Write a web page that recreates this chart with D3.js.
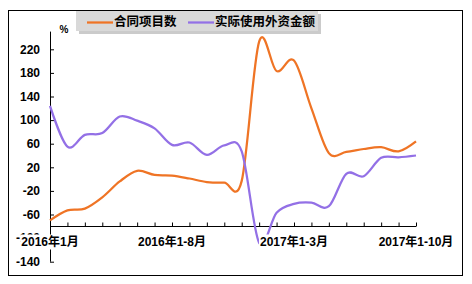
<!DOCTYPE html>
<html>
<head>
<meta charset="utf-8">
<script src="https://cdn.jsdelivr.net/npm/d3@7"></script>
<style>
  html, body { margin: 0; padding: 0; background: #fff; }
  svg { display: block; }
</style>
</head>
<body>
<svg id="chart"></svg>
<script>
// Categories: cumulative months, 2016-01 .. 2017-1-10
const months = [
  "2016年1月", "2016年1-2月", "2016年1-3月", "2016年1-4月", "2016年1-5月",
  "2016年1-6月", "2016年1-7月", "2016年1-8月", "2016年1-9月", "2016年1-10月",
  "2016年1-11月", "2016年1-12月", "2017年1月", "2017年1-2月", "2017年1-3月",
  "2017年1-4月", "2017年1-5月", "2017年1-6月", "2017年1-7月", "2017年1-8月",
  "2017年1-9月", "2017年1-10月",
];
const shownLabels = ["2016年1月", "2016年1-8月", "2017年1-3月", "2017年1-10月"];

// 合同项目数 (%)
const contracts = [
  -70, -53, -50, -31, -4, 14, 7, 6, 1, -5, -6, -3,
  233, 183, 201, 120, 44, 46, 51, 54, 47, 64,
];
// 实际使用外资金额 (%)
const actualFdi = [
  124, 55, 75, 78, 106, 99, 86, 58, 62, 41, 57, 47,
  -108, -57, -42, -40, -46, 9, 5, 36, 37, 40,
];

const yTicks = [-140, -100, -60, -20, 20, 60, 100, 140, 180, 220];
const yMin = -140;
const yMax = 250;
const xAxisAt = -80;

const seriesList = [
  { name: "合同项目数", values: contracts, color: "#ef7425" },
  { name: "实际使用外资金额", values: actualFdi, color: "#9370e6" },
];

const W = 472, H = 284;
const plotL = 50, plotR = 416, plotT = 31.6, plotB = 261.7;
const numFont = "'Liberation Sans', Arial, sans-serif";
const cjkFont = "'Liberation Sans', Arial, 'Noto Sans CJK SC', sans-serif";

const svg = d3.select("#chart").attr("width", W).attr("height", H);

// Outer frame
svg.append("rect")
  .attr("x", 8.5).attr("y", 10.5)
  .attr("width", 454).attr("height", 265)
  .attr("fill", "#fff").attr("stroke", "#000").attr("stroke-width", 1);

const x = d3.scalePoint().domain(months).range([plotL, plotR]);
const y = d3.scaleLinear().domain([yMin, yMax]).range([plotB, plotT]);

// Y axis (ticks point inward)
svg.append("g")
  .attr("transform", `translate(${plotL},0)`)
  .call(d3.axisRight(y).tickValues(yTicks).tickSize(4).tickFormat(""))
  .call((a) => a.select(".domain").attr("d", `M0.5,${plotT}V${plotB}`).attr("stroke", "#000"))
  .call((a) => a.selectAll("line").attr("stroke", "#000"));

svg.append("g")
  .selectAll("text")
  .data(yTicks)
  .join("text")
  .attr("x", 40)
  .attr("y", (d) => y(d))
  .attr("dy", "0.35em")
  .attr("text-anchor", "end")
  .attr("font-family", numFont)
  .attr("font-weight", "bold")
  .attr("font-size", 12)
  .attr("fill", "#000")
  .text((d) => d);

// "%" unit
svg.append("text")
  .attr("x", 64).attr("y", 33)
  .attr("text-anchor", "middle")
  .attr("font-family", numFont)
  .attr("font-weight", "bold")
  .attr("font-size", 10)
  .text("%");

// X axis at -80, ticks pointing up
svg.append("g")
  .attr("transform", `translate(0,${Math.round(y(xAxisAt)) + 0.5})`)
  .call(d3.axisTop(x).tickSize(4).tickFormat(""))
  .call((a) => a.select(".domain").attr("d", `M${plotL},0H${plotR}`).attr("stroke", "#000"))
  .call((a) => a.selectAll("line").attr("stroke", "#000"));

// Smoothed lines
const line = d3.line()
  .x((d, i) => x(months[i]))
  .y((d) => y(d))
  .curve(d3.curveCatmullRom.alpha(0));

svg.append("g")
  .selectAll("path")
  .data(seriesList)
  .join("path")
  .attr("d", (s) => line(s.values))
  .attr("fill", "none")
  .attr("stroke", (s) => s.color)
  .attr("stroke-width", 2.25)
  .attr("stroke-linejoin", "round");

// Category labels with white background (they cover what is behind)
const catG = svg.append("g");
shownLabels.forEach((lab) => {
  const g = catG.append("g");
  const t = g.append("text")
    .attr("x", x(lab))
    .attr("y", 242)
    .attr("dy", "0.35em")
    .attr("text-anchor", "middle")
    .attr("font-family", cjkFont)
    .attr("font-weight", "bold")
    .attr("font-size", 12)
    .attr("fill", "#000")
    .text(lab);
  const bb = t.node().getBBox();
  g.insert("rect", "text")
    .attr("x", bb.x - 1).attr("y", 234.5)
    .attr("width", bb.width + 2).attr("height", 15)
    .attr("fill", "#fff");
});

// Legend box with drop shadow
const legend = svg.append("g");
legend.append("rect")
  .attr("x", 79).attr("y", 14)
  .attr("width", 242).attr("height", 20)
  .attr("fill", "#a8a8a8").attr("opacity", 0.6);
legend.append("rect")
  .attr("x", 76).attr("y", 11)
  .attr("width", 242).attr("height", 20)
  .attr("fill", "#d9d9d9");

const legendX = [87, 188];
seriesList.forEach((s, i) => {
  legend.append("line")
    .attr("x1", legendX[i]).attr("x2", legendX[i] + 26)
    .attr("y1", 22.5).attr("y2", 22.5)
    .attr("stroke", s.color).attr("stroke-width", 2.25);
  legend.append("text")
    .attr("x", legendX[i] + 27).attr("y", 22)
    .attr("dy", "0.35em")
    .attr("font-family", cjkFont)
    .attr("font-weight", "bold")
    .attr("font-size", 12.5)
    .attr("fill", "#000")
    .text(s.name);
});
</script>
</body>
</html>
